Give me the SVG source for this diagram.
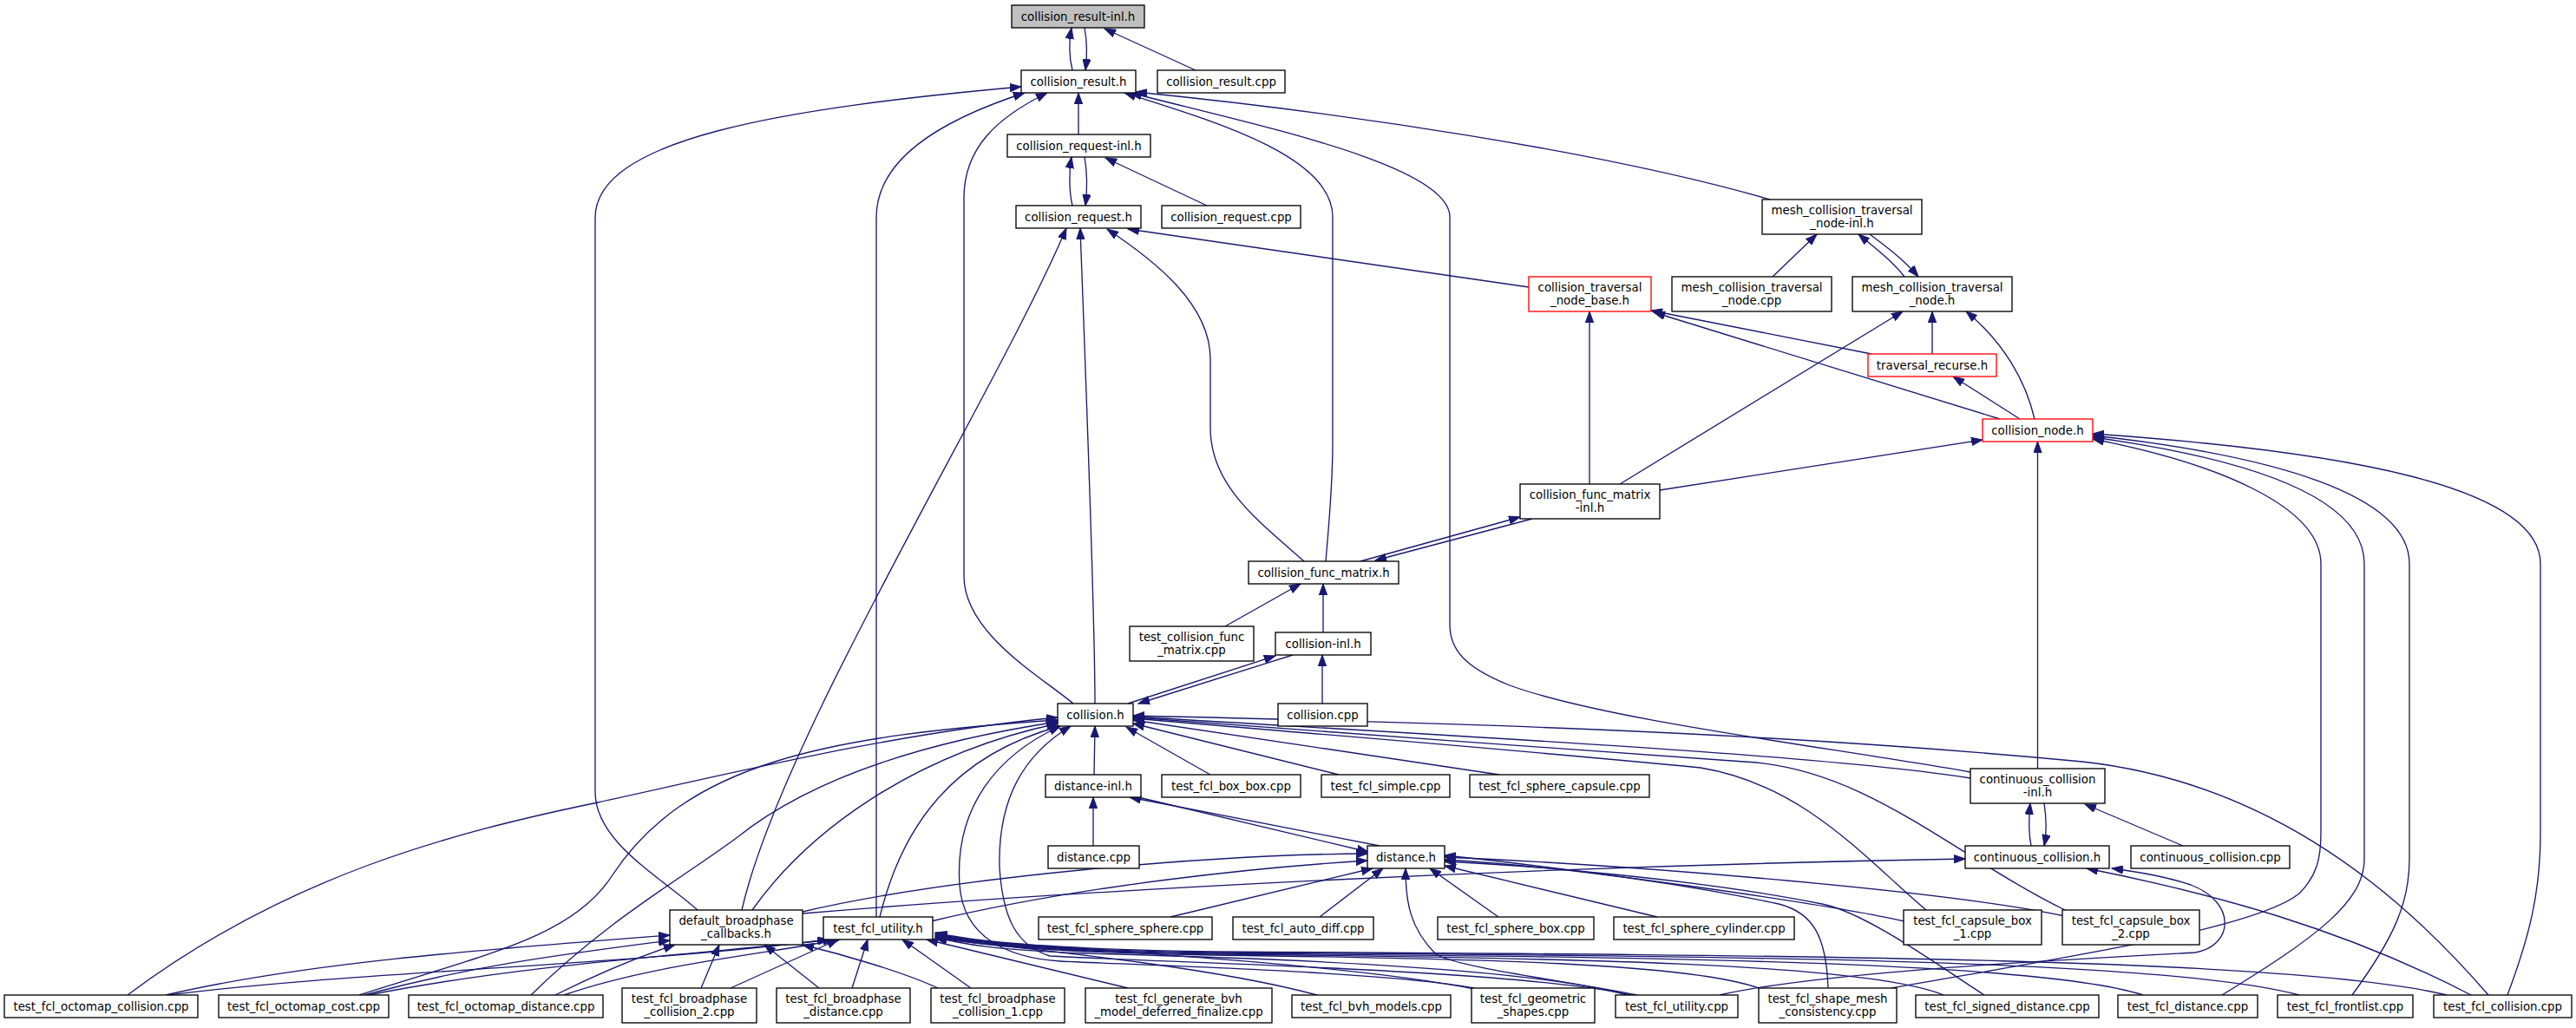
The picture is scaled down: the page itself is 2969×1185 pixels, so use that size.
<svg xmlns="http://www.w3.org/2000/svg" width="2969" height="1185" viewBox="0 0 2969 1185">
<style>
.nd rect{fill:#fff;stroke:#000;stroke-width:1.33}
.nd.root rect{fill:#bfbfbf}
.nd.red rect{stroke:#ff0000}
.nd text{font-family:"DejaVu Sans",sans-serif;font-size:13.33px;fill:#000;text-anchor:middle}
#edges path{fill:none;stroke:#191970;stroke-width:1.33;marker-end:url(#ah)}
</style>
<defs>
<marker id="ah" markerUnits="userSpaceOnUse" markerWidth="14" markerHeight="10" refX="13" refY="5" orient="auto"><path d="M0,0.3 L13,5 L0,9.7 Z" fill="#191970" stroke="#191970" stroke-width="1"/></marker>
</defs>
<rect width="2969" height="1185" fill="#fff"/>
<g id="edges">
<path d="M1236,81 C1232,65 1232,48 1235,32"/>
<path d="M1250,32 C1253,48 1253,65 1251,81"/>
<path d="M1378,81 L1273,33"/>
<path d="M1243,155 L1243,107"/>
<path d="M1236,237 C1232,220 1232,198 1235,181"/>
<path d="M1250,181 C1253,198 1253,220 1251,237"/>
<path d="M1391,237 L1274,182"/>
<path d="M2040,230 C1850,175 1550,130 1309,106"/>
<path d="M804,1049 C760,1010 686,970 686,913 L686,251 C686,160 900,125 1177,100"/>
<path d="M1010,1057 L1010,251 C1010,185 1080,140 1181,107"/>
<path d="M1237,811 C1200,780 1111,730 1111,664 L1111,228 C1111,170 1150,135 1207,107"/>
<path d="M1528,647 C1532,600 1536,560 1536,510 L1536,250 C1536,180 1400,140 1296,107"/>
<path d="M2271,890 C2100,860 1850,830 1740,790 C1690,770 1671,750 1671,720 L1671,250 C1671,190 1450,145 1303,107"/>
<path d="M855,1049 C900,850 1150,450 1229,263"/>
<path d="M1262,811 C1262,700 1250,400 1245,263"/>
<path d="M1503,647 C1450,600 1395,560 1395,493 L1395,414 C1395,350 1330,300 1276,264"/>
<path d="M1762,331 L1300,264"/>
<path d="M2043,319 L2094,270"/>
<path d="M2195,319 C2180,300 2160,285 2142,270"/>
<path d="M2155,270 C2175,285 2195,300 2211,319"/>
<path d="M1832,558 L1832,359"/>
<path d="M2157,408 L1903,358"/>
<path d="M2305,483 L1906,360"/>
<path d="M1867,558 L2193,359"/>
<path d="M2227,408 L2227,359"/>
<path d="M2345,483 C2335,440 2310,395 2266,359"/>
<path d="M2328,483 L2251,434"/>
<path d="M1913,565 L2285,507"/>
<path d="M2348.5,886 L2348.5,509"/>
<path d="M2890,1147 C2915,1080 2928,1030 2928,960 L2928,650 C2928,560 2700,520 2412,500"/>
<path d="M2711,1147 C2760,1080 2777,1040 2777,990 L2777,650 C2777,570 2620,525 2412,502"/>
<path d="M2561,1147 C2670,1080 2725,1040 2725,990 L2725,650 C2725,575 2600,530 2412,504"/>
<path d="M2180,1139 C2400,1100 2600,1070 2650,1030 C2670,1010 2675,990 2675,960 L2675,650 C2675,585 2560,535 2412,506"/>
<path d="M1412,722 L1499,673"/>
<path d="M1525,729 L1525,673"/>
<path d="M1568,647 L1752,596"/>
<path d="M1766,598 L1585,646"/>
<path d="M1300,811 L1470,756"/>
<path d="M1490,755 L1312,811"/>
<path d="M1524,811 L1524,755"/>
<path d="M1261,893 L1262,837"/>
<path d="M1395,893 L1298,838"/>
<path d="M1543,893 L1306,834"/>
<path d="M1728,893 L1306,830"/>
<path d="M2271,897 C2100,870 1700,850 1306,826"/>
<path d="M2220,1049 C2150,990 2080,905 1960,885 C1700,860 1500,845 1306,828"/>
<path d="M2380,1049 C2250,985 2150,885 2010,878 C1800,862 1500,843 1306,827"/>
<path d="M2868,1147 C2750,1010 2600,900 2400,878 C2000,840 1600,832 1306,825"/>
<path d="M147,1147 C330,1010 520,960 689,925 C850,890 1030,845 1219,827"/>
<path d="M414,1147 C560,1100 660,1080 705,1010 C790,880 950,848 1219,830"/>
<path d="M612,1147 C700,1060 790,1010 850,965 C950,885 1100,850 1219,832"/>
<path d="M867,1049 C930,960 1050,870 1219,834"/>
<path d="M1014,1057 C1040,950 1100,870 1222,837"/>
<path d="M1699,1139 C1600,1120 1300,1112 1222,1108 C1160,1104 1110,1080 1106,1020 C1100,930 1150,870 1222,837"/>
<path d="M1880,1147 C1750,1118 1350,1110 1210,1102 C1172,1090 1156,1060 1152,1000 C1150,920 1180,870 1234,837"/>
<path d="M1590,975 L1302,919"/>
<path d="M1312,919 L1577,982"/>
<path d="M1260,975 L1260,919"/>
<path d="M925,1051 C1100,1010 1400,985 1576,984"/>
<path d="M1073,1062 C1250,1020 1450,1000 1576,992"/>
<path d="M1349,1057 L1582,1001"/>
<path d="M1521,1057 L1594,1001"/>
<path d="M1727,1057 L1648,1001"/>
<path d="M1910,1057 L1665,998"/>
<path d="M1887,1147 C1800,1130 1680,1115 1655,1100 C1625,1070 1620,1040 1620,1001"/>
<path d="M2195,1062 C2100,1040 1800,1000 1665,986"/>
<path d="M2380,1056 C2250,1028 1900,998 1665,988"/>
<path d="M2107,1139 C2105,1080 2090,1052 2050,1042 C1900,1010 1750,996 1665,991"/>
<path d="M2287,1147 C2230,1110 2150,1052 2100,1042 C1950,1012 1750,997 1665,993"/>
<path d="M2341,975 C2338,960 2338,945 2340,926"/>
<path d="M2356,926 C2359,945 2359,960 2356,975"/>
<path d="M2516,975 L2403,927"/>
<path d="M925,1053 C1200,1030 1700,1000 2265,990"/>
<path d="M2848,1147 C2700,1070 2550,1030 2405,1001"/>
<path d="M1982,1147 C2100,1120 2400,1105 2530,1098 C2575,1090 2578,1040 2525,1020 C2495,1010 2465,1005 2434,1001"/>
<path d="M191,1147 C350,1110 550,1095 772,1078"/>
<path d="M420,1147 C550,1112 650,1100 772,1084"/>
<path d="M640,1147 C690,1122 730,1105 778,1089"/>
<path d="M808,1139 L829,1089"/>
<path d="M944,1139 L881,1089"/>
<path d="M1081,1139 C1040,1120 970,1100 925,1089"/>
<path d="M195,1147 C400,1120 700,1115 955,1083"/>
<path d="M425,1147 C600,1112 800,1100 962,1083"/>
<path d="M650,1147 C750,1112 880,1100 968,1083"/>
<path d="M842,1139 L966,1083"/>
<path d="M982,1139 L1000,1083"/>
<path d="M1119,1139 L1040,1083"/>
<path d="M1300,1139 L1068,1083"/>
<path d="M1518,1147 C1400,1115 1200,1095 1078,1082"/>
<path d="M1699,1140 C1550,1110 1250,1096 1078,1081"/>
<path d="M1875,1147 C1750,1112 1400,1103 1250,1099 C1150,1095 1110,1089 1078,1080"/>
<path d="M2030,1140 C1950,1110 1700,1105 1400,1101 C1200,1098 1120,1089 1078,1079"/>
<path d="M2240,1147 C2150,1110 1800,1104 1400,1100 C1200,1097 1120,1088 1078,1078"/>
<path d="M2470,1147 C2350,1108 1900,1103 1400,1099 C1200,1096 1120,1087 1078,1077"/>
<path d="M2650,1147 C2500,1106 2000,1102 1400,1098 C1200,1095 1120,1086 1078,1076"/>
<path d="M2820,1147 C2650,1105 2100,1101 1400,1097 C1200,1094 1120,1085 1078,1075"/>
</g>
<g id="n1" class="nd root"><rect x="1166" y="6" width="153" height="26"/><text x="1242.5" y="23.7">collision_result-inl.h</text></g>
<g id="n2" class="nd"><rect x="1177" y="81" width="132" height="26"/><text x="1243" y="98.7">collision_result.h</text></g>
<g id="n3" class="nd"><rect x="1334" y="81" width="147" height="26"/><text x="1407.5" y="98.7">collision_result.cpp</text></g>
<g id="n4" class="nd"><rect x="1161" y="155" width="165" height="26"/><text x="1243.5" y="172.7">collision_request-inl.h</text></g>
<g id="n5" class="nd"><rect x="1171" y="237" width="144" height="26"/><text x="1243" y="254.7">collision_request.h</text></g>
<g id="n6" class="nd"><rect x="1339" y="237" width="160" height="26"/><text x="1419" y="254.7">collision_request.cpp</text></g>
<g id="n7" class="nd"><rect x="2031" y="230" width="184" height="40"/><text x="2123" y="246.8">mesh_collision_traversal</text><text x="2123" y="261.5">_node-inl.h</text></g>
<g id="n8" class="nd red"><rect x="1762" y="319" width="141" height="40"/><text x="1832.5" y="335.8">collision_traversal</text><text x="1832.5" y="350.5">_node_base.h</text></g>
<g id="n9" class="nd"><rect x="1927" y="319" width="184" height="40"/><text x="2019" y="335.8">mesh_collision_traversal</text><text x="2019" y="350.5">_node.cpp</text></g>
<g id="n10" class="nd"><rect x="2135" y="319" width="184" height="40"/><text x="2227" y="335.8">mesh_collision_traversal</text><text x="2227" y="350.5">_node.h</text></g>
<g id="n11" class="nd red"><rect x="2153" y="408" width="148" height="26"/><text x="2227" y="425.7">traversal_recurse.h</text></g>
<g id="n12" class="nd red"><rect x="2285" y="483" width="127" height="26"/><text x="2348.5" y="500.7">collision_node.h</text></g>
<g id="n13" class="nd"><rect x="1752" y="558" width="161" height="40"/><text x="1832.5" y="574.8">collision_func_matrix</text><text x="1832.5" y="589.5">-inl.h</text></g>
<g id="n14" class="nd"><rect x="1439" y="647" width="173" height="26"/><text x="1525.5" y="664.7">collision_func_matrix.h</text></g>
<g id="n15" class="nd"><rect x="1302" y="722" width="143" height="40"/><text x="1373.5" y="738.8">test_collision_func</text><text x="1373.5" y="753.5">_matrix.cpp</text></g>
<g id="n16" class="nd"><rect x="1470" y="729" width="110" height="26"/><text x="1525" y="746.7">collision-inl.h</text></g>
<g id="n17" class="nd"><rect x="1219" y="811" width="87" height="26"/><text x="1262.5" y="828.7">collision.h</text></g>
<g id="n18" class="nd"><rect x="1473" y="811" width="103" height="26"/><text x="1524.5" y="828.7">collision.cpp</text></g>
<g id="n19" class="nd"><rect x="1205" y="893" width="110" height="26"/><text x="1260" y="910.7">distance-inl.h</text></g>
<g id="n20" class="nd"><rect x="1339" y="893" width="160" height="26"/><text x="1419" y="910.7">test_fcl_box_box.cpp</text></g>
<g id="n21" class="nd"><rect x="1523" y="893" width="148" height="26"/><text x="1597" y="910.7">test_fcl_simple.cpp</text></g>
<g id="n22" class="nd"><rect x="1694" y="893" width="207" height="26"/><text x="1797.5" y="910.7">test_fcl_sphere_capsule.cpp</text></g>
<g id="n23" class="nd"><rect x="2271" y="886" width="155" height="40"/><text x="2348.5" y="902.8">continuous_collision</text><text x="2348.5" y="917.5">-inl.h</text></g>
<g id="n24" class="nd"><rect x="1208" y="975" width="105" height="26"/><text x="1260.5" y="992.7">distance.cpp</text></g>
<g id="n25" class="nd"><rect x="1576" y="975" width="89" height="26"/><text x="1620.5" y="992.7">distance.h</text></g>
<g id="n26" class="nd"><rect x="2265" y="975" width="166" height="26"/><text x="2348" y="992.7">continuous_collision.h</text></g>
<g id="n27" class="nd"><rect x="2456" y="975" width="183" height="26"/><text x="2547.5" y="992.7">continuous_collision.cpp</text></g>
<g id="n28" class="nd"><rect x="772" y="1049" width="153" height="40"/><text x="848.5" y="1065.8">default_broadphase</text><text x="848.5" y="1080.5">_callbacks.h</text></g>
<g id="n29" class="nd"><rect x="949" y="1057" width="126" height="26"/><text x="1012" y="1074.7">test_fcl_utility.h</text></g>
<g id="n30" class="nd"><rect x="1197" y="1057" width="200" height="26"/><text x="1297" y="1074.7">test_fcl_sphere_sphere.cpp</text></g>
<g id="n31" class="nd"><rect x="1421" y="1057" width="162" height="26"/><text x="1502" y="1074.7">test_fcl_auto_diff.cpp</text></g>
<g id="n32" class="nd"><rect x="1657" y="1057" width="180" height="26"/><text x="1747" y="1074.7">test_fcl_sphere_box.cpp</text></g>
<g id="n33" class="nd"><rect x="1860" y="1057" width="208" height="26"/><text x="1964" y="1074.7">test_fcl_sphere_cylinder.cpp</text></g>
<g id="n34" class="nd"><rect x="2194" y="1049" width="159" height="40"/><text x="2273.5" y="1065.8">test_fcl_capsule_box</text><text x="2273.5" y="1080.5">_1.cpp</text></g>
<g id="n35" class="nd"><rect x="2377" y="1049" width="158" height="40"/><text x="2456" y="1065.8">test_fcl_capsule_box</text><text x="2456" y="1080.5">_2.cpp</text></g>
<g id="n36" class="nd"><rect x="5" y="1147" width="223" height="26"/><text x="116.5" y="1164.7">test_fcl_octomap_collision.cpp</text></g>
<g id="n37" class="nd"><rect x="252" y="1147" width="196" height="26"/><text x="350" y="1164.7">test_fcl_octomap_cost.cpp</text></g>
<g id="n38" class="nd"><rect x="471" y="1147" width="224" height="26"/><text x="583" y="1164.7">test_fcl_octomap_distance.cpp</text></g>
<g id="n39" class="nd"><rect x="717" y="1139" width="155" height="40"/><text x="794.5" y="1155.8">test_fcl_broadphase</text><text x="794.5" y="1170.5">_collision_2.cpp</text></g>
<g id="n40" class="nd"><rect x="895" y="1139" width="154" height="40"/><text x="972" y="1155.8">test_fcl_broadphase</text><text x="972" y="1170.5">_distance.cpp</text></g>
<g id="n41" class="nd"><rect x="1073" y="1139" width="154" height="40"/><text x="1150" y="1155.8">test_fcl_broadphase</text><text x="1150" y="1170.5">_collision_1.cpp</text></g>
<g id="n42" class="nd"><rect x="1251" y="1139" width="215" height="40"/><text x="1358.5" y="1155.8">test_fcl_generate_bvh</text><text x="1358.5" y="1170.5">_model_deferred_finalize.cpp</text></g>
<g id="n43" class="nd"><rect x="1489" y="1147" width="183" height="26"/><text x="1580.5" y="1164.7">test_fcl_bvh_models.cpp</text></g>
<g id="n44" class="nd"><rect x="1696" y="1139" width="142" height="40"/><text x="1767" y="1155.8">test_fcl_geometric</text><text x="1767" y="1170.5">_shapes.cpp</text></g>
<g id="n45" class="nd"><rect x="1862" y="1147" width="141" height="26"/><text x="1932.5" y="1164.7">test_fcl_utility.cpp</text></g>
<g id="n46" class="nd"><rect x="2027" y="1139" width="159" height="40"/><text x="2106.5" y="1155.8">test_fcl_shape_mesh</text><text x="2106.5" y="1170.5">_consistency.cpp</text></g>
<g id="n47" class="nd"><rect x="2208" y="1147" width="211" height="26"/><text x="2313.5" y="1164.7">test_fcl_signed_distance.cpp</text></g>
<g id="n48" class="nd"><rect x="2441" y="1147" width="161" height="26"/><text x="2521.5" y="1164.7">test_fcl_distance.cpp</text></g>
<g id="n49" class="nd"><rect x="2625" y="1147" width="156" height="26"/><text x="2703" y="1164.7">test_fcl_frontlist.cpp</text></g>
<g id="n50" class="nd"><rect x="2805" y="1147" width="159" height="26"/><text x="2884.5" y="1164.7">test_fcl_collision.cpp</text></g>
</svg>
